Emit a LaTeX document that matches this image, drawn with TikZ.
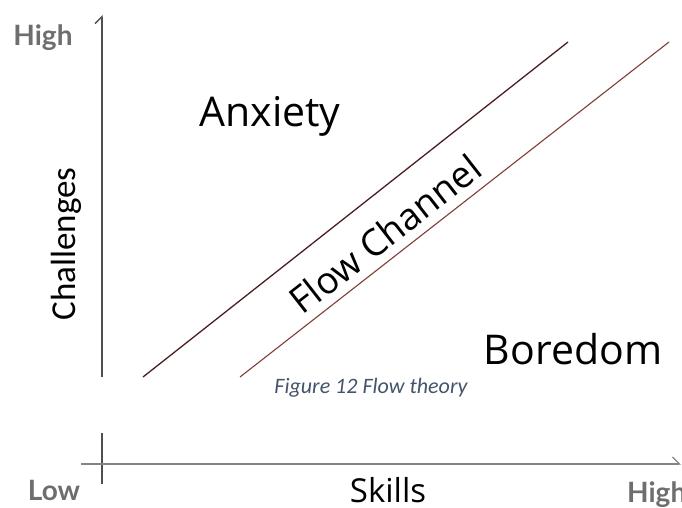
\documentclass[tikz,border=0pt]{standalone}
\usepackage{fontspec}
\setmainfont{Open Sans}
\newfontfamily\capfont{Carlito}
\newfontfamily\endfont{Lato}
\usetikzlibrary{arrows.meta}
\definecolor{axisgray}{HTML}{4F4F4F}
\definecolor{axisgreen}{HTML}{7D8A7D}
\definecolor{linedark}{HTML}{4A1E22}
\definecolor{linered}{HTML}{7E3E36}
\definecolor{capblue}{HTML}{44546A}
\definecolor{endgray}{HTML}{6E6E6E}

\begin{document}
\begin{tikzpicture}[x=1pt, y=-1pt, every node/.style={inner sep=0pt},
  zone/.style={font=\fontsize{41}{48}\selectfont, anchor=base},
  endlabel/.style={font=\endfont\bfseries\fontsize{28}{32}\selectfont, text=endgray, anchor=base},
  barb/.style={-{Straight Barb[left, length=7pt, width=14pt]}}]
\useasboundingbox (0,0) rectangle (682,508);
\clip (0,0) rectangle (682,508);
% upper panel
\coordinate (Y0) at (102,377);
\coordinate (Y1) at (102,15);
\coordinate (A0) at (143,377);
\coordinate (A1) at (568,42);
\coordinate (B0) at (240,377);
\coordinate (B1) at (669,42);
\draw[axisgray, line width=1.4pt, barb] (Y0) -- (Y1);
\draw[linedark, line width=1.3pt] (A0) -- (A1);
\draw[linered, line width=1.1pt] (B0) -- (B1);
\node[endlabel] (hiY) at (43,46) {High};
\node[zone] (anx) at (270,127) {Anxiety};
\node[zone] (bore) at (573,364) {Boredom};
\node[font=\fontsize{37}{44}\selectfont, rotate=38] (flow) at (385,234) {Flow Channel};
\node[font=\capfont\fontsize{35}{42}\selectfont, rotate=90, anchor=base] (chal) at (75,244) {Challenges};
% caption
\node[font=\capfont\itshape\fontsize{22}{26}\selectfont, text=capblue, anchor=base] (cap) at (371,393) {Figure 12 Flow theory};
% lower panel
\coordinate (Y2) at (102,433);
\coordinate (Y3) at (102,484);
\coordinate (X0) at (81,464);
\coordinate (X1) at (681,464);
\draw[axisgray, line width=1.3pt] (Y2) -- (Y3);
\draw[axisgreen, line width=1.3pt, barb] (X0) -- (X1);
\node[endlabel] (loX) at (54,500) {Low};
\node[endlabel, anchor=base west] (hiX) at (627,502) {High};
\node[font=\fontsize{33}{40}\selectfont, anchor=base] (skill) at (388,502) {Skills};
\end{tikzpicture}
\end{document}
